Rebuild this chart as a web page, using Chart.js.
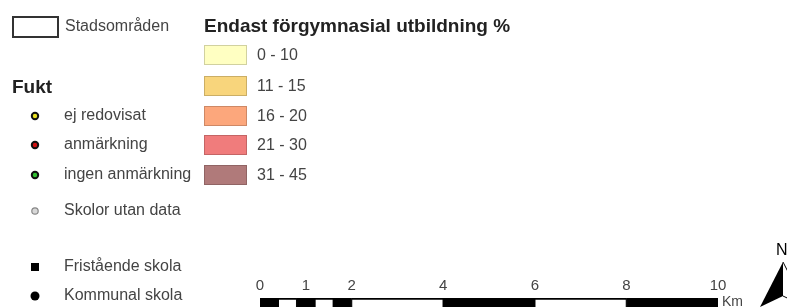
<!DOCTYPE html>
<html>
<head>
<meta charset="utf-8">
<script src="https://cdn.jsdelivr.net/npm/chart.js@4"></script>
<style>
  html, body { margin: 0; padding: 0; background: #fff; }
  canvas { display: block; }
</style>
</head>
<body>
<canvas id="karta" width="787" height="307"></canvas>
<script>
// skalstock i km
const skalGranser = [0, 0.4, 0.8, 1.2, 1.6, 2, 4, 6, 8, 10];
const skalEtiketter = [0, 1, 2, 4, 6, 8, 10];
const skalFarger = ['#000', '#fff', '#000', '#fff', '#000', '#fff', '#000', '#fff', '#000'];

// teckenförklaring
const klassEtiketter = ['0 - 10', '11 - 15', '16 - 20', '21 - 30', '31 - 45'];
const klassFarger = ['#ffffc2', '#f8d57c', '#fca77c', '#f07c7c', '#b07a7a'];
const fuktEtiketter = ['ej redovisat', 'anmärkning', 'ingen anmärkning', 'Skolor utan data'];
const fuktFarger = ['#e8e020', '#d01010', '#30c030', '#d8d8d8'];
const skolEtiketter = ['Fristående skola', 'Kommunal skola'];

const font = '"Liberation Sans", Arial, sans-serif';

// bygger floating bars från gränserna
const datasets = [];
for (let i = 0; i < skalGranser.length - 1; i++) {
    datasets.push({
        data: [[skalGranser[i], skalGranser[i + 1]]],
        backgroundColor: skalFarger[i],
        borderColor: '#000',
        borderWidth: { top: 2, left: 1, right: 1, bottom: 0 },
        borderSkipped: false,
        grouped: false,
        barPercentage: 1,
        categoryPercentage: 1
    });
}

const legendPlugin = {
    id: 'legend',
    afterDraw(chart) {
        const ctx = chart.ctx;
        ctx.save();
        ctx.textBaseline = 'middle';

        // Stadsområden
        ctx.strokeStyle = '#333';
        ctx.lineWidth = 2;
        ctx.strokeRect(13, 17, 45, 20);
        ctx.fillStyle = '#444';
        ctx.font = '16px ' + font;
        ctx.fillText('Stadsområden', 65, 27);

        // rubriker
        ctx.fillStyle = '#222';
        ctx.font = 'bold 19px ' + font;
        ctx.fillText('Endast förgymnasial utbildning %', 204, 27);
        ctx.fillText('Fukt', 12, 88);

        // klasser
        const klassY = [55, 86, 116, 145, 175];
        ctx.font = '16px ' + font;
        klassEtiketter.forEach((txt, i) => {
            ctx.fillStyle = klassFarger[i];
            ctx.fillRect(204, klassY[i] - 10, 43, 20);
            ctx.strokeStyle = 'rgba(0,0,0,0.18)';
            ctx.lineWidth = 1;
            ctx.strokeRect(204.5, klassY[i] - 9.5, 42, 19);
            ctx.fillStyle = '#444';
            ctx.fillText(txt, 257, klassY[i] + 1);
        });

        // fukt
        const fuktY = [116, 145, 175, 211];
        fuktEtiketter.forEach((txt, i) => {
            ctx.beginPath();
            ctx.arc(35, fuktY[i], 3.2, 0, Math.PI * 2);
            ctx.fillStyle = fuktFarger[i];
            ctx.fill();
            ctx.lineWidth = i === 3 ? 1.2 : 2;
            ctx.strokeStyle = i === 3 ? '#888' : '#111';
            ctx.stroke();
            ctx.fillStyle = '#444';
            ctx.fillText(txt, 64, fuktY[i]);
        });

        // skoltyp
        const skolY = [267, 296];
        ctx.fillStyle = '#000';
        ctx.fillRect(31, skolY[0] - 4, 8, 8);
        ctx.beginPath();
        ctx.arc(35, skolY[1], 4.5, 0, Math.PI * 2);
        ctx.fill();
        ctx.fillStyle = '#444';
        skolEtiketter.forEach((txt, i) => ctx.fillText(txt, 64, skolY[i]));

        // Km
        const x = chart.scales.x;
        ctx.font = '14px ' + font;
        ctx.fillText('Km', x.getPixelForValue(10) + 4, 302);

        // norrpil
        ctx.fillStyle = '#000';
        ctx.font = '16px ' + font;
        ctx.fillText('N', 776, 251);
        ctx.beginPath();
        ctx.moveTo(783, 262);
        ctx.lineTo(760, 307);
        ctx.lineTo(783, 296);
        ctx.closePath();
        ctx.fill();
        ctx.beginPath();
        ctx.moveTo(783, 262);
        ctx.lineTo(806, 307);
        ctx.lineTo(783, 296);
        ctx.lineWidth = 1;
        ctx.strokeStyle = '#000';
        ctx.stroke();
        ctx.restore();
    }
};

new Chart(document.getElementById('karta'), {
    type: 'bar',
    data: {
        labels: ['skala'],
        datasets: datasets
    },
    options: {
        indexAxis: 'y',
        responsive: false,
        animation: false,
        devicePixelRatio: 1,
        layout: { padding: { left: 260, right: 69, top: 268, bottom: 0 } },
        plugins: { legend: { display: false }, tooltip: { enabled: false } },
        scales: {
            x: {
                type: 'linear',
                position: 'top',
                min: 0,
                max: 10,
                grid: { display: false, drawTicks: false },
                border: { display: false },
                afterBuildTicks: (scale) => {
                    scale.ticks = skalEtiketter.map(v => ({ value: v }));
                },
                afterFit: (scale) => { scale.height = 30; },
                ticks: {
                    color: '#444',
                    padding: 3,
                    maxRotation: 0,
                    autoSkip: false,
                    font: { family: font, size: 15 }
                }
            },
            y: { display: false }
        }
    },
    plugins: [legendPlugin]
});
</script>
</body>
</html>
